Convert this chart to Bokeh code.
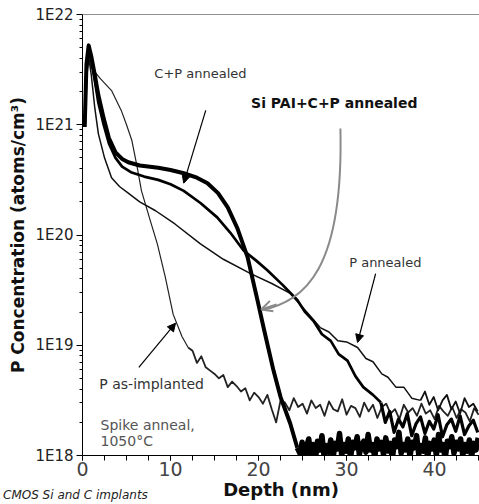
from bokeh.plotting import figure
from bokeh.layouts import column
from bokeh.models import (Range1d, FixedTicker, CustomJSTickFormatter, Div,
                          Label, Arrow, NormalHead, OpenHead, Span)
from bokeh.embed import file_html
from bokeh.resources import INLINE

# Depth (nm) and log10 of P concentration (atoms/cm^3)
si_pai_x = [0.25, 0.45, 0.7, 1.0, 1.4, 1.8, 2.4, 3.0, 3.75, 4.5, 5.2, 6.5, 8.6, 10.0,
            11.5, 13.0, 14.2, 15.4, 16.5, 17.6, 18.75, 19.9, 20.6, 21.7, 22.5, 23.6, 24.4]
si_pai_log = [20.98, 21.55, 21.72, 21.62, 21.45, 21.27, 21.06, 20.88, 20.75, 20.69, 20.66,
              20.63, 20.61, 20.59, 20.56, 20.52, 20.47, 20.38, 20.25, 20.06, 19.80, 19.40,
              19.15, 18.77, 18.53, 18.29, 18.07]
si_pai_noise_x = [24.7, 24.95, 25.2, 25.45, 25.7, 25.95, 26.2, 26.45, 26.7, 26.95,
                  27.2, 27.45, 27.7, 27.95, 28.2, 28.45, 28.7, 28.95, 29.2, 29.45,
                  29.7, 29.95, 30.2, 30.45, 30.7, 30.95, 31.2, 31.45, 31.7, 31.95,
                  32.2, 32.45, 32.7, 32.95, 33.2, 33.45, 33.7, 33.95, 34.2, 34.45,
                  34.7, 34.95, 35.2, 35.45, 35.7, 35.95, 36.2, 36.45, 36.7, 36.95,
                  37.2, 37.45, 37.7, 37.95, 38.2, 38.45, 38.7, 38.95, 39.2, 39.45,
                  39.7, 39.95, 40.2, 40.45, 40.7, 40.95, 41.2, 41.45, 41.7, 41.95,
                  42.2, 42.45, 42.7, 42.95, 43.2, 43.45, 43.7, 43.95, 44.2, 44.45,
                  44.7, 44.95]
si_pai_noise_log = [18.02, 18.12, 17.97, 18.08, 18.15, 18.00, 18.10, 17.96, 18.13, 18.05,
                    18.18, 17.99, 18.09, 18.03, 18.14, 17.97, 18.11, 18.06, 18.20, 18.00,
                    18.10, 18.04, 18.15, 17.98, 18.12, 18.07, 18.17, 18.01, 18.09, 18.13,
                    18.03, 18.19, 18.05, 18.10, 17.98, 18.15, 18.06, 18.12, 18.01, 18.16,
                    18.04, 18.11, 17.97, 18.14, 18.08, 18.21, 18.02, 18.10, 18.05, 18.15,
                    17.99, 18.12, 18.07, 18.18, 18.01, 18.09, 18.04, 18.16, 17.98, 18.11,
                    18.06, 18.14, 18.00, 18.19, 18.05, 18.10, 17.97, 18.13, 18.08, 18.17,
                    18.02, 18.12, 18.06, 18.15, 18.00, 18.10, 18.04, 18.14, 17.99, 18.11,
                    18.05, 18.16]

cp_x = [0.25, 0.45, 0.7, 1.0, 1.4, 1.8, 2.4, 3.0, 3.75, 4.5, 5.5, 7.0, 8.6, 10.0, 11.5,
        13.4, 15.3, 16.8, 18.3, 19.7, 21.0, 22.7, 24.4, 25.3, 26.25, 27.2, 28.2, 29.1,
        30.1, 31.0, 31.9, 33.0, 33.9]
cp_log = [20.98, 21.5, 21.68, 21.58, 21.4, 21.2, 21.0, 20.83, 20.70, 20.62, 20.57, 20.53,
          20.50, 20.46, 20.40, 20.29, 20.16, 20.02, 19.86, 19.77, 19.68, 19.55, 19.41,
          19.30, 19.22, 19.10, 19.04, 18.92, 18.86, 18.72, 18.62, 18.55, 18.48]
cp_noise_x = [34.4, 34.9, 35.4, 35.9, 36.4, 36.9, 37.4, 37.9, 38.4, 38.9, 39.4, 39.9,
              40.4, 40.9, 41.4, 41.9, 42.4, 42.9, 43.4, 43.9, 44.4, 44.9]
cp_noise_log = [18.30, 18.40, 18.21, 18.33, 18.26, 18.38, 18.18, 18.29, 18.35, 18.20, 18.31,
                18.24, 18.37, 18.17, 18.28, 18.33, 18.22, 18.36, 18.19, 18.27, 18.32, 18.21]

p_ann_x = [0.25, 0.45, 0.7, 1.0, 1.4, 1.8, 2.5, 3.3, 4.2, 5.2, 6.5, 8.3, 10.5, 13.4, 16.0,
           19.1, 21.5, 23.6, 25.5, 27.0, 28.0, 29.0, 30.0, 31.25, 32.2, 33.0, 34.0, 34.7,
           35.6, 36.5, 37.4, 38.4]
p_ann_log = [20.98, 21.45, 21.62, 21.45, 21.15, 20.92, 20.70, 20.52, 20.44, 20.38, 20.30,
             20.22, 20.10, 19.92, 19.78, 19.65, 19.56, 19.47, 19.30, 19.16, 19.12, 19.04,
             19.03, 18.98, 18.88, 18.85, 18.74, 18.71, 18.62, 18.62, 18.52, 18.50]
p_ann_noise_x = [38.9, 39.4, 39.9, 40.4, 40.9, 41.4, 41.9, 42.4, 42.9, 43.4, 43.9, 44.4, 44.9]
p_ann_noise_log = [18.58, 18.46, 18.53, 18.41, 18.50, 18.55, 18.42, 18.49, 18.38, 18.52,
                   18.44, 18.47, 18.40]

p_imp_x = [0.25, 0.45, 0.7, 1.0, 2.0, 3.3, 4.4, 5.0, 5.6, 6.2, 6.7, 7.7, 8.5, 9.4, 10.3,
           11.3, 12.0]
p_imp_log = [20.98, 21.4, 21.58, 21.52, 21.42, 21.31, 21.13, 21.0, 20.86, 20.62, 20.40,
             20.13, 19.92, 19.62, 19.28, 19.08, 18.98]
p_imp_noise_x = [12.5, 13.0, 13.5, 14.0, 14.5, 15.0, 15.5, 16.0, 16.5, 17.0, 17.5, 18.0,
                 18.5, 19.0, 19.5, 20.0, 20.5, 21.0, 21.5, 22.0, 22.5, 23.0, 23.5, 24.0,
                 24.5, 25.0, 25.5, 26.0, 26.5, 27.0, 27.5, 28.0, 28.5, 29.0, 29.5, 30.0,
                 30.5, 31.0, 31.5, 32.0, 32.5, 33.0, 33.5, 34.0, 34.5, 35.0, 35.5, 36.0,
                 36.5, 37.0, 37.5, 38.0, 38.5, 39.0, 39.5, 40.0, 40.5, 41.0, 41.5, 42.0,
                 42.5, 43.0, 43.5, 44.0, 44.5, 45.0]
p_imp_noise_log = [18.95, 18.84, 18.90, 18.80, 18.77, 18.74, 18.70, 18.73, 18.62, 18.67,
                   18.63, 18.58, 18.61, 18.50, 18.57, 18.53, 18.47, 18.55, 18.42, 18.30,
                   18.50, 18.48, 18.41, 18.52, 18.44, 18.47, 18.38, 18.50, 18.43, 18.46,
                   18.36, 18.49, 18.42, 18.40, 18.51, 18.37, 18.45, 18.43, 18.35, 18.48,
                   18.40, 18.46, 18.34, 18.44, 18.47, 18.38, 18.42, 18.33, 18.46, 18.39,
                   18.43, 18.36, 18.47, 18.38, 18.41, 18.33, 18.45, 18.40, 18.36, 18.44,
                   18.34, 18.42, 18.39, 18.31, 18.43, 18.37]

y_major_ticks = [1e18, 1e19, 1e20, 1e21, 1e22]
x_major_ticks = [0, 10, 20, 30, 40]


def conc(logs):
    return [10 ** v for v in logs]


FONT = "DejaVu Sans"

p = figure(width=479, height=504, y_axis_type="log", output_backend="svg",
           toolbar_location=None, x_range=Range1d(0, 45.1), y_range=Range1d(1e18, 1e22),
           min_border_left=82, min_border_right=0, min_border_top=14, min_border_bottom=49)
p.outline_line_color = None
p.xgrid.visible = False
p.ygrid.visible = False
p.background_fill_color = "white"
p.border_fill_color = "white"


def curve(xs, logs, noise_x, noise_logs, color, w_main, w_noise):
    # smooth part, then the noisy tail of the same series
    p.line(xs, conc(logs), line_color=color, line_width=w_main, line_join="round")
    p.line([xs[-1]] + noise_x, conc([logs[-1]] + noise_logs), line_color=color,
           line_width=w_noise, line_join="round")


curve(p_imp_x, p_imp_log, p_imp_noise_x, p_imp_noise_log, "#222222", 1.2, 1.8)
curve(p_ann_x, p_ann_log, p_ann_noise_x, p_ann_noise_log, "#111111", 1.5, 1.8)
curve(cp_x, cp_log, cp_noise_x, cp_noise_log, "black", 2.7, 3.2)
curve(si_pai_x, si_pai_log, si_pai_noise_x, si_pai_noise_log, "black", 4, 5.5)

# top frame line
p.add_layout(Span(location=1e22, dimension="width", line_color="#222222", line_width=1))

# axes
yminor = [k * 10 ** e for e in range(18, 22) for k in range(2, 10)]
p.yaxis.ticker = FixedTicker(ticks=y_major_ticks, minor_ticks=yminor)
p.yaxis.formatter = CustomJSTickFormatter(code="return '1E' + Math.round(Math.log10(tick));")
xminor = [2.5 * i for i in range(0, 19)]
p.xaxis.ticker = FixedTicker(ticks=x_major_ticks, minor_ticks=xminor)

for ax in (p.xaxis[0], p.yaxis[0]):
    ax.axis_line_color = "black"
    ax.axis_line_width = 1
    ax.major_tick_line_color = "black"
    ax.minor_tick_line_color = "black"
    ax.major_tick_line_width = 1
    ax.minor_tick_line_width = 1
    ax.major_tick_in = 0
    ax.minor_tick_in = 0
    ax.major_label_text_font = FONT
    ax.axis_label_text_font = FONT
    ax.axis_label_text_font_style = "bold"
    ax.axis_label_text_color = "#111111"

p.yaxis.major_tick_out = 6
p.yaxis.minor_tick_out = 3
p.yaxis.major_label_text_font_size = "15px"
p.yaxis.major_label_text_color = "#222222"
p.yaxis.major_label_standoff = 3
p.yaxis.axis_label = "P Concentration (atoms/cm\u00b3)"
p.yaxis.axis_label_text_font_size = "17px"
p.yaxis.axis_label_standoff = 4

p.xaxis.major_tick_out = 5
p.xaxis.minor_tick_out = 5
p.xaxis.major_label_text_font_size = "19px"
p.xaxis.major_label_text_color = "#444444"
p.xaxis.major_label_standoff = 1
p.xaxis.axis_label = "Depth (nm)"
p.xaxis.axis_label_text_font_size = "18px"
p.xaxis.axis_label_standoff = 0


# annotations
def label(x, ylog, text, size="13px", style="normal", align="center", color="#333333"):
    p.add_layout(Label(x=x, y=10 ** ylog, text=text, text_font=FONT, text_font_size=size,
                       text_font_style=style, text_align=align, text_baseline="middle",
                       text_color=color))


label(13.4, 21.465, "C+P annealed")
label(28.6, 21.20, "Si PAI+C+P annealed", size="14px", style="bold", color="#111111")
label(34.4, 19.75, "P annealed")
label(7.85, 18.644, "P as-implanted", size="14px")
label(2.05, 18.28, "Spike anneal,", size="14px", align="left", color="#555555")
label(2.05, 18.127, "1050\u00b0C", size="14px", align="left", color="#555555")


def arrow(x0, l0, x1, l1):
    p.add_layout(Arrow(end=NormalHead(size=8, fill_color="black", line_color="black"),
                       x_start=x0, y_start=10 ** l0, x_end=x1, y_end=10 ** l1,
                       line_color="black", line_width=1.2))


arrow(14.0, 21.13, 11.5, 20.47)
arrow(33.3, 19.65, 31.25, 19.025)
arrow(6.4, 18.80, 10.57, 19.20)

# gray curved arrow
p.bezier(x0=[29.3], y0=[10 ** 20.966], x1=[20.45], y1=[10 ** 19.32],
         cx0=[29.66], cy0=[10 ** 19.678], cx1=[25.23], cy1=[10 ** 19.406],
         line_color="#8a8a8a", line_width=2)
p.add_layout(Arrow(end=OpenHead(size=11, line_color="#8a8a8a", line_width=2),
                   x_start=22.05, y_start=10 ** 19.37, x_end=20.3, y_end=10 ** 19.324,
                   line_color="#8a8a8a", line_width=2))

note = Div(text="<i>CMOS Si and C implants</i>", width=200, height=16,
           margin=(-16, 0, 0, 3),
           styles={"font-family": "DejaVu Sans", "font-size": "12px", "color": "#222222",
                   "line-height": "14px", "z-index": "10"})

layout = column(p, note, spacing=0)
open("out.html", "w").write(file_html(layout, INLINE))
